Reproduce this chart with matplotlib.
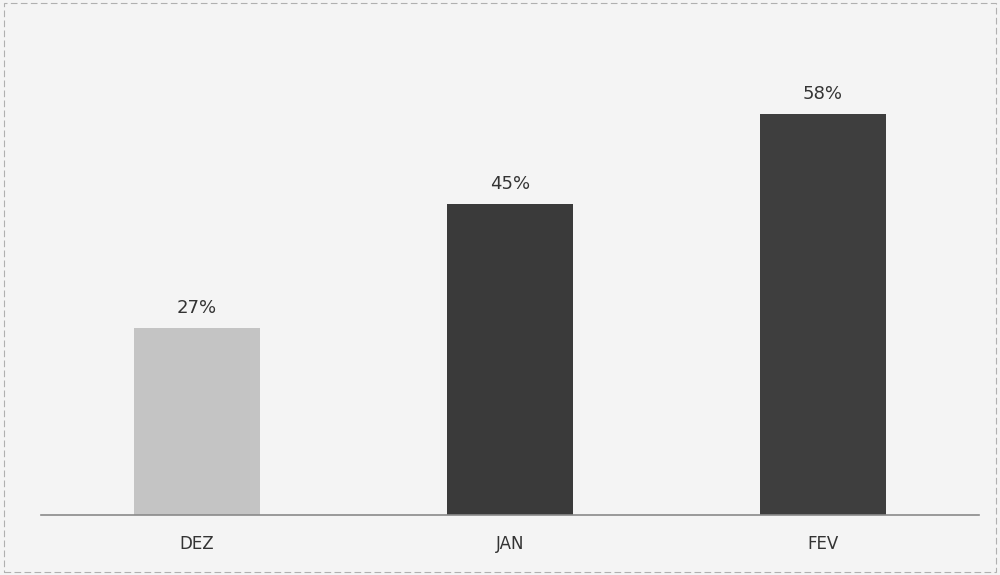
import matplotlib
matplotlib.use("Agg")
import matplotlib.pyplot as plt
from matplotlib.patches import Rectangle

categories = ["DEZ", "JAN", "FEV"]
values = [27, 45, 58]
labels = ["27%", "45%", "58%"]
colors = ["#c4c4c4", "#3a3a3a", "#3e3e3e"]

fig = plt.figure(figsize=(10, 5.75), dpi=100)
fig.patch.set_facecolor("#f4f4f4")
ax = fig.add_axes([0.0405, 0.104, 0.939, 0.886])
ax.set_facecolor("#f4f4f4")

bars = ax.bar(range(len(categories)), values, width=0.4, color=colors, zorder=2)
for b, lab in zip(bars, labels):
    ax.annotate(lab, (b.get_x() + b.get_width() / 2, b.get_height()),
                xytext=(0, 8), textcoords="offset points",
                ha="center", va="bottom", fontsize=13, color="#333333")

ax.set_xlim(-0.5, 2.5)
ax.set_ylim(0, 73.6)
ax.set_xticks(range(len(categories)))
ax.set_xticklabels(categories, fontsize=12, color="#333333")
ax.tick_params(axis="x", length=0, pad=14)
ax.set_yticks([])
for s in ["top", "right", "left"]:
    ax.spines[s].set_visible(False)
ax.spines["bottom"].set_color("#8a8a8a")
ax.spines["bottom"].set_linewidth(1.2)

fig.patches.append(Rectangle((0.004, 0.006), 0.992, 0.988, transform=fig.transFigure,
                             fill=False, edgecolor="#b0b0b0", linestyle=(0, (6, 3)),
                             linewidth=0.8))

fig.savefig("out.png", dpi=100, facecolor=fig.get_facecolor())
